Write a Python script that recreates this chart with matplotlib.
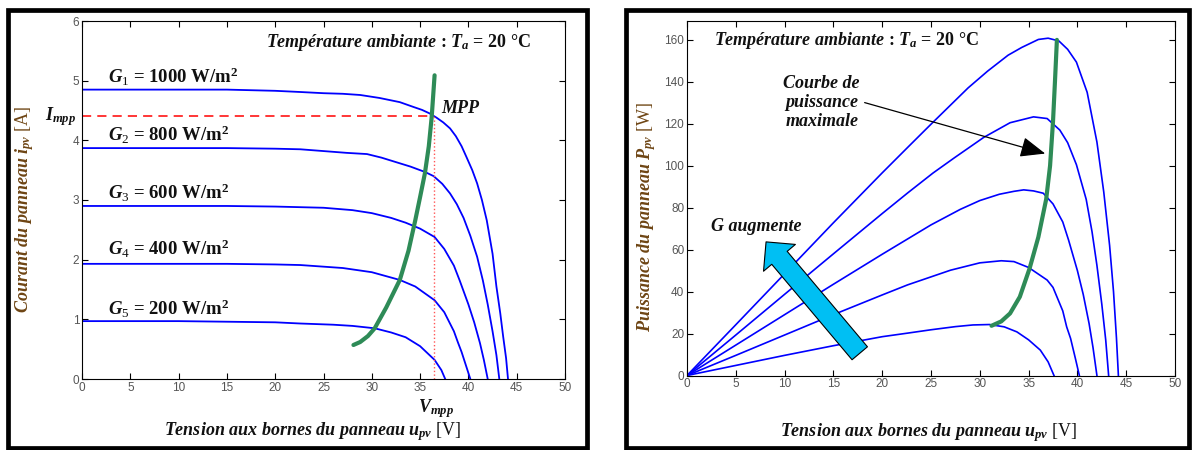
import matplotlib
matplotlib.use("Agg")
import matplotlib.pyplot as plt
from matplotlib.patches import Rectangle
from matplotlib.transforms import blended_transform_factory

# ---------------- data ----------------
irradiance_labels = ["1", "2", "3", "4", "5"]
irradiance_values = ["1000", "800", "600", "400", "200"]

# I-V curves (left panel)
v_g1 = [0, 5, 10, 15, 20, 22.6, 25, 27, 28.8, 30.8, 32.9, 34.3, 35.2, 36.0, 36.7, 37.4, 38.1, 38.7, 39.3, 39.8, 40.4, 40.9, 41.4, 41.9, 42.5, 42.9, 43.3, 43.6, 43.9, 44.1]
i_g1 = [4.85, 4.85, 4.85, 4.85, 4.83, 4.81, 4.79, 4.78, 4.76, 4.71, 4.64, 4.56, 4.51, 4.45, 4.38, 4.30, 4.20, 4.07, 3.90, 3.72, 3.50, 3.28, 3.00, 2.66, 2.10, 1.55, 1.10, 0.71, 0.35, 0.0]
v_g2 = [0, 5, 10, 15, 20, 22.6, 25, 27.4, 29.5, 31, 32.6, 34, 35.5, 36.4, 37.3, 38.1, 38.8, 39.5, 40.2, 40.9, 41.5, 42.0, 42.5, 42.9, 43.2]
i_g2 = [3.87, 3.87, 3.87, 3.87, 3.86, 3.85, 3.82, 3.79, 3.77, 3.71, 3.63, 3.56, 3.47, 3.40, 3.27, 3.11, 2.93, 2.70, 2.40, 2.05, 1.65, 1.25, 0.80, 0.40, 0.0]
v_g3 = [0, 5, 10, 15, 20, 25, 28, 30, 32, 33.5, 35, 36.5, 37.5, 38.5, 39.1, 40, 40.6, 41.2, 41.6, 42.0]
i_g3 = [2.90, 2.90, 2.90, 2.90, 2.89, 2.87, 2.83, 2.78, 2.70, 2.62, 2.52, 2.38, 2.18, 1.90, 1.65, 1.25, 0.95, 0.60, 0.32, 0.0]
v_g4 = [0, 5, 10, 15, 20, 22.6, 27, 30, 32.9, 34.5, 36.5, 37.5, 38.5, 38.9, 39.3, 39.8, 40.2]
i_g4 = [1.93, 1.93, 1.93, 1.93, 1.92, 1.91, 1.86, 1.79, 1.66, 1.55, 1.32, 1.12, 0.80, 0.62, 0.45, 0.20, 0.0]
v_g5 = [0, 5, 10, 15, 20, 22.6, 26, 28, 30.3, 32, 33.5, 35, 36.5, 37.2, 37.6]
i_g5 = [0.97, 0.97, 0.97, 0.96, 0.95, 0.93, 0.91, 0.89, 0.85, 0.78, 0.70, 0.55, 0.32, 0.15, 0.0]

# maximum power locus (left panel)
v_mpp_locus = [28.1, 28.8, 29.6, 30.3, 31.5, 32.9, 33.8, 34.5, 35.0, 35.5, 35.9, 36.2, 36.5]
i_mpp_locus = [0.57, 0.62, 0.72, 0.85, 1.20, 1.66, 2.15, 2.66, 3.05, 3.45, 3.90, 4.39, 5.09]

V_MPP = 36.4
I_MPP = 4.4

# P-V curves (right panel)
pv_v_g1 = [0, 5, 10, 15, 20, 22.6, 25, 28.8, 30.8, 32.9, 34.3, 36.0, 37.0, 38.1, 39.0, 39.9, 41.0, 42.0, 42.7, 43.3, 43.7, 44.0, 44.2]
pv_p_g1 = [0, 24.2, 48.5, 72.8, 96.6, 108.7, 119.8, 137.1, 145.1, 152.7, 156.4, 160.2, 160.8, 159.5, 155.5, 149.4, 135, 111.3, 87.5, 62, 40, 18, 0]
pv_v_g2 = [0, 5, 10, 15, 20, 22.6, 25.2, 27.4, 30.4, 33.1, 35.5, 36.9, 38.2, 39.0, 39.9, 40.9, 41.5, 42.0, 42.5, 42.9, 43.2]
pv_p_g2 = [0, 19.3, 38.7, 58, 77.2, 87, 96.5, 103.8, 113.5, 120.5, 123.3, 122.5, 117, 111, 100.5, 84, 68.5, 52.5, 34, 17, 0]
pv_v_g3 = [0, 5, 10, 15, 20, 25, 28, 30, 32, 33.5, 34.5, 35.5, 36.5, 37.5, 38.5, 39.1, 40, 40.6, 41.2, 41.6, 42.0]
pv_p_g3 = [0, 14.5, 29, 43.5, 57.8, 71.8, 79.2, 83.4, 86.4, 87.8, 88.5, 88, 86.9, 81.8, 73.2, 64.5, 50, 38.6, 24.7, 13.3, 0]
pv_v_g4 = [0, 5, 10, 15, 20, 22.6, 27, 30, 32.2, 33.5, 35, 36.9, 37.5, 38.5, 38.9, 39.3, 39.8, 40.2]
pv_p_g4 = [0, 9.6, 19.3, 29, 38.4, 43.2, 50.2, 53.7, 54.7, 54.3, 51.5, 45.5, 42, 30.8, 23.2, 17.7, 8, 0]
pv_v_g5 = [0, 5, 10, 15, 20, 22.6, 25, 27.5, 29.3, 31, 32.5, 33.8, 35, 36.2, 37, 37.6]
pv_p_g5 = [0, 4.8, 9.6, 14.2, 18.5, 20.2, 21.8, 23.3, 24.1, 24.3, 23.2, 20.8, 17, 12.1, 6.5, 0]

# maximum power locus (right panel)
pv_v_locus = [31.2, 32.2, 33.1, 34.1, 35.1, 36.0, 36.8, 37.2, 37.5, 37.7, 37.9]
pv_p_locus = [23.7, 25.8, 29.6, 37.5, 51, 66, 84, 100, 121, 140, 160]

x_ticks = [0, 5, 10, 15, 20, 25, 30, 35, 40, 45, 50]
y_ticks_left = [0, 1, 2, 3, 4, 5, 6]
y_ticks_right = [0, 20, 40, 60, 80, 100, 120, 140, 160]

# ---------------- style ----------------
plt.rcParams["font.family"] = ["Liberation Serif", "DejaVu Serif"]
plt.rcParams["mathtext.fontset"] = "custom"
plt.rcParams["mathtext.rm"] = "Liberation Serif"
plt.rcParams["mathtext.it"] = "Liberation Serif:italic:bold"
plt.rcParams["mathtext.bf"] = "Liberation Serif:bold"

BLUE = "#0000ff"
GREEN = "#2e8b57"
LABEL_BROWN = "#6e4514"
TXT = "#111111"
FS = 13

W, H = 1194, 450
fig = plt.figure(figsize=(W / 100, H / 100), dpi=100)


def fx(px):
    return px / W


def fy(py):
    return 1 - py / H


# panel frames
fig.add_artist(Rectangle((fx(8), fy(448)), fx(587 - 8), (448 - 10) / H,
                         transform=fig.transFigure, fill=False, lw=3.4, ec="black"))
fig.add_artist(Rectangle((fx(626), fy(448)), fx(1189 - 626), (448 - 10) / H,
                         transform=fig.transFigure, fill=False, lw=3.4, ec="black"))

axL = fig.add_axes([fx(82), fy(379), fx(565 - 82), (379 - 21) / H])
axR = fig.add_axes([fx(687), fy(375.5), fx(1175 - 687), (375.5 - 21) / H])


def style_axes(ax, yticks, ylim):
    ax.set_xlim(0, 50)
    ax.set_ylim(*ylim)
    ax.set_xticks(x_ticks)
    ax.set_yticks(yticks)
    ax.tick_params(direction="in", top=True, right=True, length=4, width=0.8,
                   labelsize=8.5, labelcolor="#555555", pad=2)
    for lab in ax.get_xticklabels() + ax.get_yticklabels():
        lab.set_family("Liberation Sans")
    for s in ax.spines.values():
        s.set_linewidth(0.8)
        s.set_color("black")


TEMP_TEXT = r"$\mathit{Température\ ambiante}$ : $T_a$ = 20 °C"

# ---------------- left panel ----------------
iv_sets = [(v_g1, i_g1), (v_g2, i_g2), (v_g3, i_g3), (v_g4, i_g4), (v_g5, i_g5)]
for v, i in iv_sets:
    axL.plot(v, i, color=BLUE, lw=1.3)

axL.plot([0, V_MPP], [I_MPP, I_MPP], color="red", lw=1.1, dashes=(6, 4))
axL.plot([V_MPP, V_MPP], [0, I_MPP], color="#ff5555", lw=1.0, ls=":")
axL.plot(v_mpp_locus, i_mpp_locus, color=GREEN, lw=3, solid_capstyle="round")
style_axes(axL, y_ticks_left, (0, 6))

axL.text(32.8, 5.64, TEMP_TEXT, ha="center", va="center", fontsize=13,
         fontweight="bold", color=TXT)
label_baselines = [4.96, 3.99, 3.02, 2.08, 1.07]
for lab, val, yb in zip(irradiance_labels, irradiance_values, label_baselines):
    axL.text(2.7, yb, r"$G_{\mathit{" + lab + r"}}$ = " + val + r" W/m$^{\mathbf{2}}$",
             ha="left", va="baseline", fontsize=13.5, fontweight="bold", color=TXT)
axL.text(37.2, 4.46, "MPP", ha="left", va="baseline", fontsize=FS,
         fontweight="bold", fontstyle="italic", color=TXT)
axL.text(-0.012, I_MPP, r"$I_{mpp}$", transform=blended_transform_factory(axL.transAxes, axL.transData),
         ha="right", va="center", fontsize=FS, color=TXT)
axL.text(V_MPP + 0.3, -0.082, r"$V_{mpp}$", transform=blended_transform_factory(axL.transData, axL.transAxes),
         ha="center", va="center", fontsize=FS, color=TXT)

fig.text(fx(25), fy(209), r"Courant du panneau $i_{pv}$ $\mathrm{[A]}$", rotation=90,
         ha="center", va="center", fontsize=FS, fontweight="bold", fontstyle="italic", color=LABEL_BROWN)
fig.text(fx(313), fy(432), r"Tension aux bornes du panneau $u_{pv}$ $\mathrm{[V]}$",
         ha="center", va="center", fontsize=FS, fontweight="bold", fontstyle="italic", color=TXT)

# ---------------- right panel ----------------
pv_sets = [(pv_v_g1, pv_p_g1), (pv_v_g2, pv_p_g2), (pv_v_g3, pv_p_g3), (pv_v_g4, pv_p_g4), (pv_v_g5, pv_p_g5)]
for v, p in pv_sets:
    axR.plot(v, p, color=BLUE, lw=1.2)
axR.plot(pv_v_locus, pv_p_locus, color=GREEN, lw=3, solid_capstyle="round")
style_axes(axR, y_ticks_right, (0, 169))

axR.text(2.8, 159.8, TEMP_TEXT, ha="left", va="center", fontsize=13,
         fontweight="bold", color=TXT)
axR.text(13.8, 130.1, "Courbe de\npuissance\nmaximale", ha="center", va="center",
         fontsize=FS, fontweight="bold", fontstyle="italic", color=TXT, linespacing=1.15)
axR.annotate("", xy=(36.7, 105.8), xytext=(18.2, 130.1),
             arrowprops=dict(arrowstyle="-|>,head_length=1.1,head_width=0.45", color="black",
                             lw=0.9, mutation_scale=14, shrinkA=0, shrinkB=0))
axR.text(2.5, 70.9, "G augmente", ha="left", va="center", fontsize=FS,
         fontweight="bold", fontstyle="italic", color=TXT)
axR.annotate("", xy=(8.1, 63.7), xytext=(17.7, 10.6),
             arrowprops=dict(arrowstyle="simple,head_length=0.6,head_width=1.2,tail_width=0.58",
                             fc="#00bff3", ec="black", lw=0.8, mutation_scale=25,
                             shrinkA=0, shrinkB=0))

fig.text(fx(647), fy(217), r"Puissance du panneau $P_{pv}$ $\mathrm{[W]}$", rotation=90,
         ha="center", va="center", fontsize=FS, fontweight="bold", fontstyle="italic", color=LABEL_BROWN)
fig.text(fx(929), fy(433), r"Tension aux bornes du panneau $u_{pv}$ $\mathrm{[V]}$",
         ha="center", va="center", fontsize=FS, fontweight="bold", fontstyle="italic", color=TXT)

fig.savefig("out.png", dpi=100)
